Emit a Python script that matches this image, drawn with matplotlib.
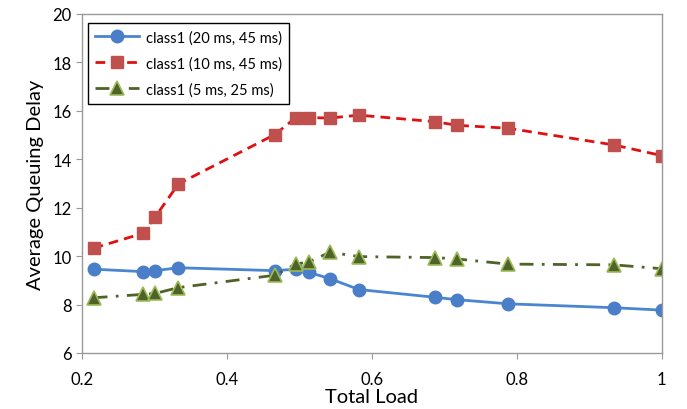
import matplotlib.pyplot as plt

# load values
load = [0.216, 0.284, 0.301, 0.333, 0.466, 0.495, 0.513, 0.542, 0.582,
        0.687, 0.718, 0.788, 0.934, 1.0]

delay_20_45 = [9.46, 9.36, 9.40, 9.52, 9.40, 9.46, 9.33, 9.07, 8.62,
               8.30, 8.20, 8.03, 7.87, 7.77]
delay_10_45 = [10.33, 10.94, 11.62, 12.98, 15.02, 15.72, 15.72, 15.70, 15.82,
               15.55, 15.40, 15.28, 14.59, 14.15]
delay_5_25 = [8.28, 8.42, 8.46, 8.70, 9.21, 9.67, 9.76, 10.16, 9.98,
              9.94, 9.88, 9.67, 9.64, 9.48]

labels = ['class1 (20 ms, 45 ms)', 'class1 (10 ms, 45 ms)', 'class1 (5 ms, 25 ms)']
xticks = [0.2, 0.4, 0.6, 0.8, 1.0]
xtick_labels = ['0.2', '0.4', '0.6', '0.8', '1']
yticks = [6, 8, 10, 12, 14, 16, 18, 20]

plt.rcParams['font.family'] = ['Lato', 'DejaVu Sans']

fig = plt.figure(figsize=(6.87, 4.10), dpi=100)
ax = fig.add_axes([0.1194, 0.1366, 0.844, 0.827])

ax.plot(load, delay_20_45, color='#4A86D0', lw=2, marker='o', ms=9,
        mfc='#4A7EC8', mec='#4A7EC8', label=labels[0])
ax.plot(load, delay_10_45, color='#E01010', lw=2, ls=(0, (3.5, 2.2)), marker='s', ms=8,
        mfc='#C0504D', mec='#C0504D', label=labels[1])
ax.plot(load, delay_5_25, color='#4F6228', lw=2, ls=(0, (5, 3, 1, 3)), marker='^', ms=10.5,
        mfc='#4F6228', mec='#9BBB59', mew=1.2, label=labels[2])

ax.set_xlim(0.2, 1.0)
ax.set_ylim(6, 20)
ax.set_xticks(xticks)
ax.set_xticklabels(xtick_labels)
ax.set_yticks(yticks)
ax.tick_params(axis='both', labelsize=12, color='#999999', length=4, direction='out')
ax.tick_params(axis='x', pad=9)

for s in ax.spines.values():
    s.set_color('#9a9a9a')
    s.set_linewidth(1)

ax.set_xlabel('Total Load', fontsize=14.5, labelpad=1)
ax.set_ylabel('Average Queuing Delay', fontsize=14.5, labelpad=6)

leg = ax.legend(loc='upper left', bbox_to_anchor=(-0.003, 0.995), fontsize=10.5,
                fancybox=False, edgecolor='black', framealpha=1,
                handlelength=3.0, borderpad=0.5, labelspacing=0.8,
                handletextpad=0.5)
leg.get_frame().set_linewidth(1)

fig.savefig('out.png', dpi=100)
